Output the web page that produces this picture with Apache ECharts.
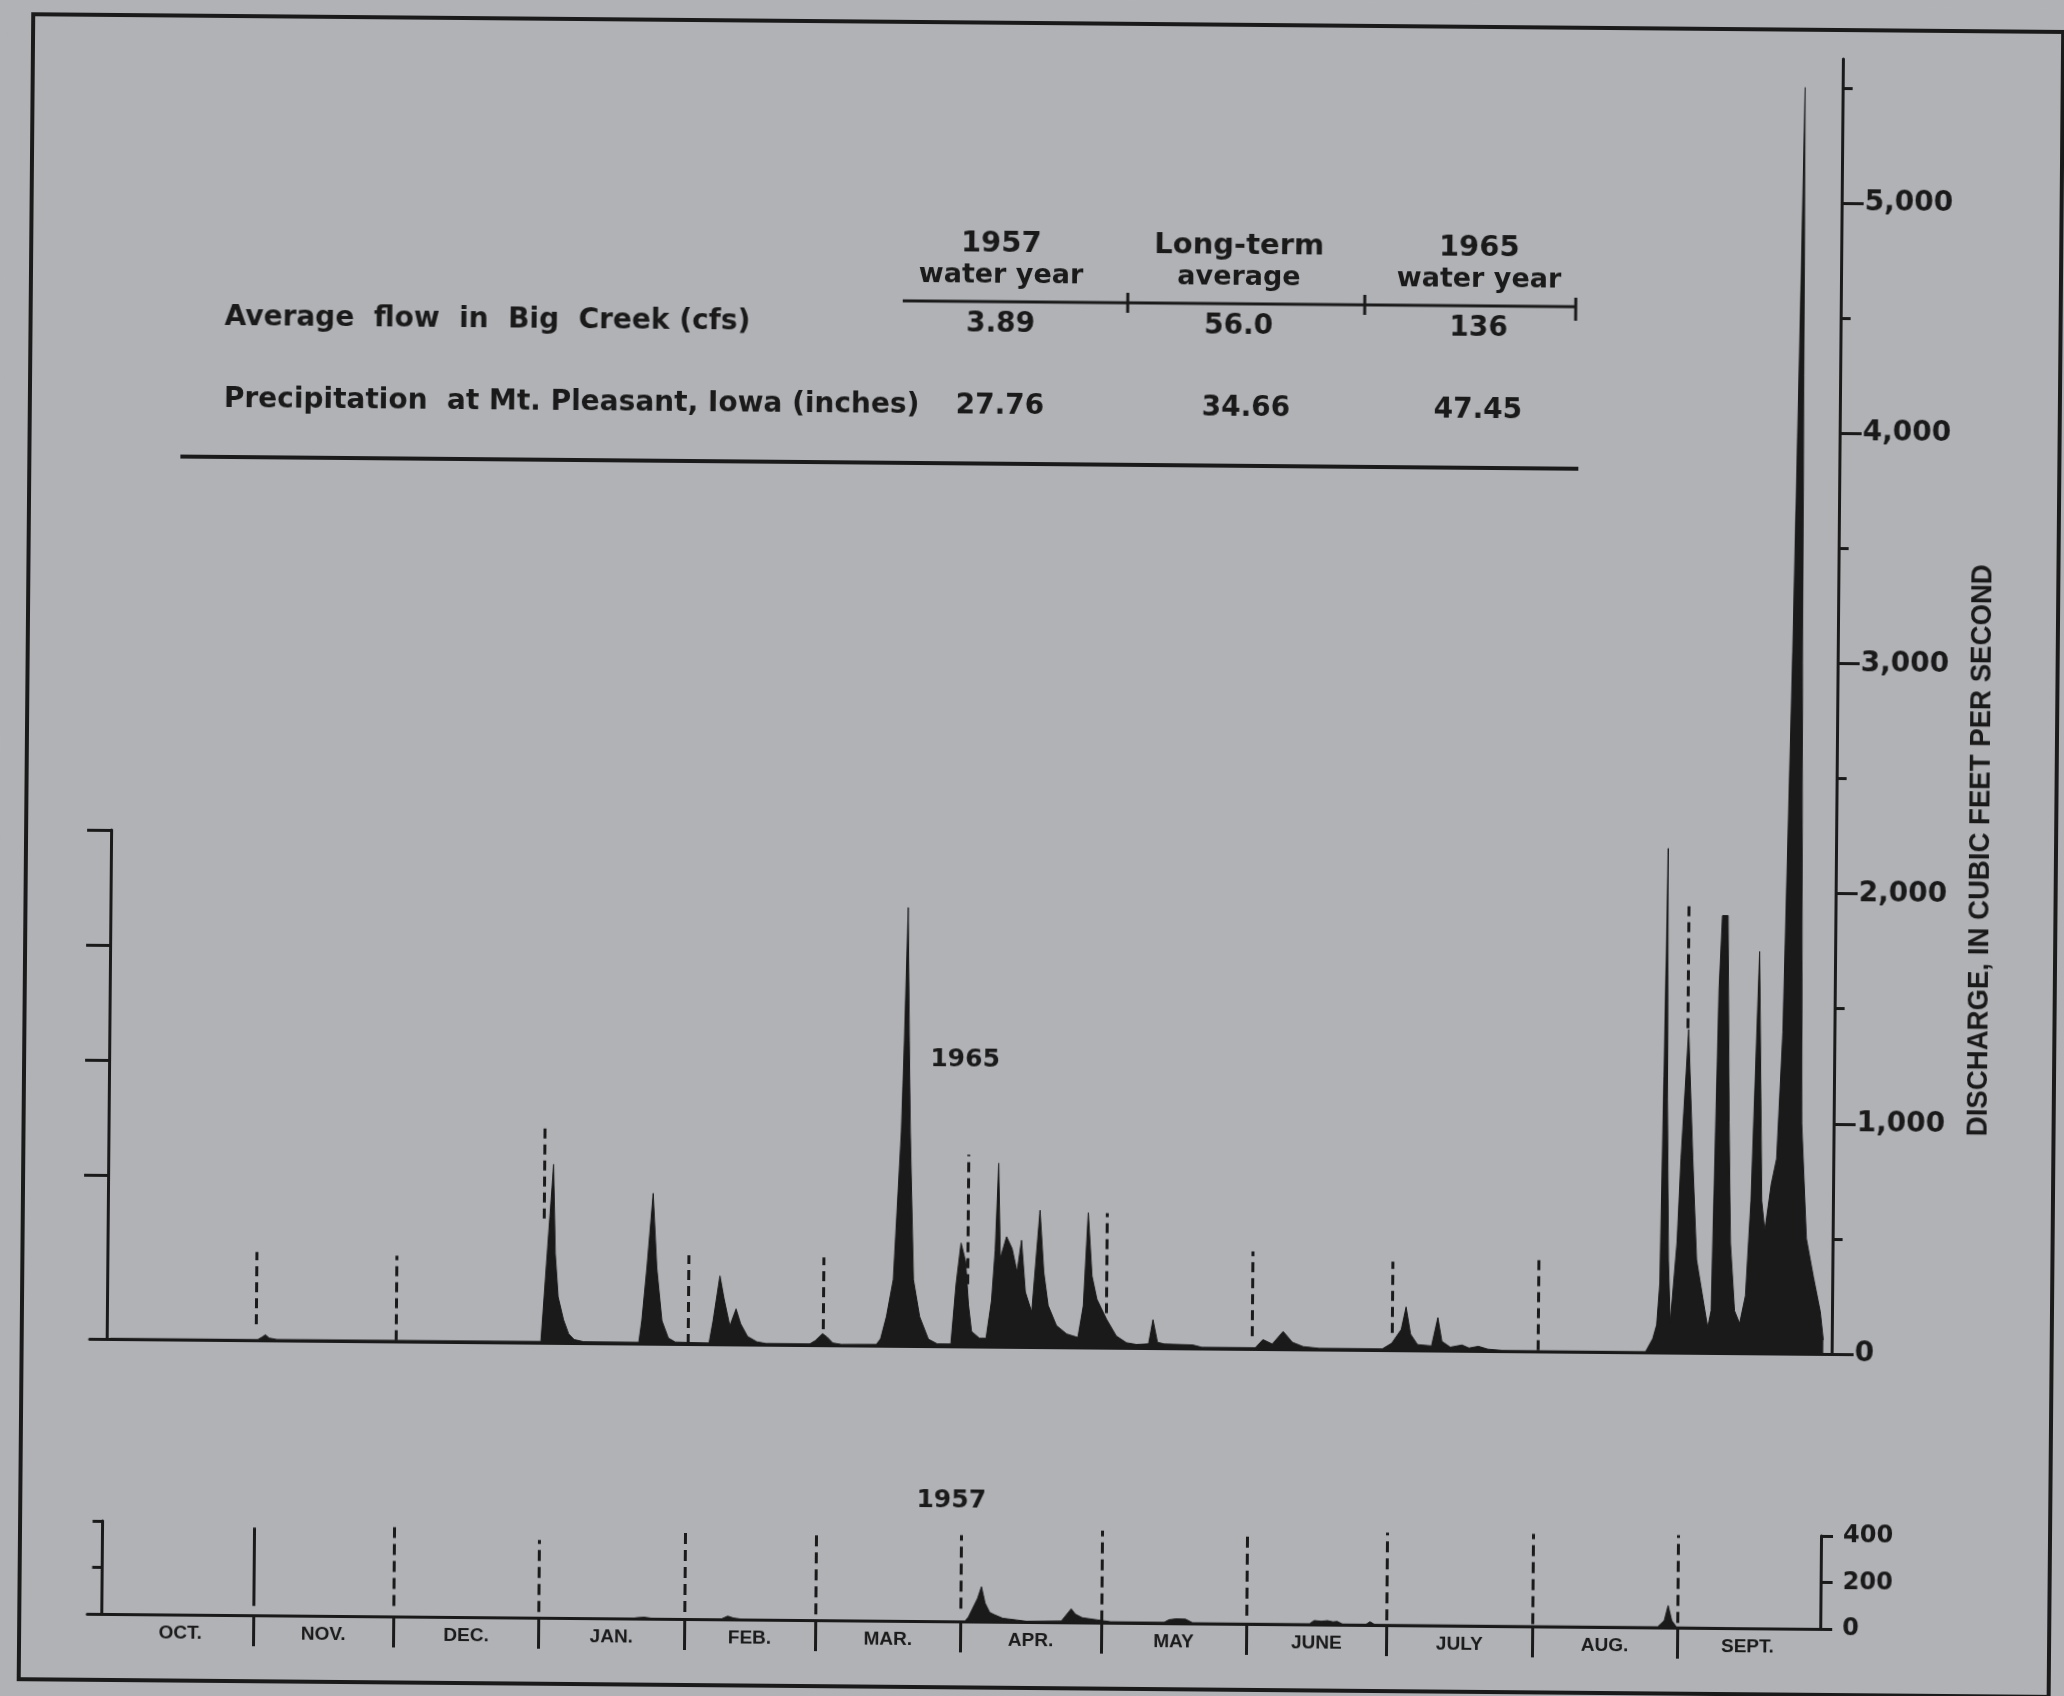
<!DOCTYPE html>
<html><head><meta charset="utf-8">
<script src="https://cdn.jsdelivr.net/npm/echarts@6/dist/echarts.min.js"></script>
<style>
html,body{margin:0;padding:0;background:#b1b2b6;overflow:hidden}
#c{width:2064px;height:1696px;transform:rotate(0.5deg);transform-origin:50% 50%}
</style>
</head><body><div id="c"></div>
<script>
// ---------- DATA ----------
const monthNames = ['OCT.','NOV.','DEC.','JAN.','FEB.','MAR.','APR.','MAY','JUNE','JULY','AUG.','SEPT.'];
const monthStartDays = [0,31,61,92,123,151,182,212,243,273,304,335,365]; // day 0 = Oct 1

// 1965 water year daily discharge (day, cfs)
const days1965 = [0,31.5,32.4,33.1,33.9,35.5,91.9,92.2,93.1,94.3,94.8,95.5,96.7,97.8,99,101,
 112.8,113.4,114.4,115.6,116.5,117.7,119.1,120.6,127.8,128.6,130.0,130.9,132.2,133.5,134.5,136,138,140,
 149.3,150.5,152,153,154.2,156,163.5,164.4,165.6,167.0,168.45,168.93,169.5,169.98,170.36,171.3,172.7,174.6,176.5,
 179.4,180.4,181.4,182.4,183.1,183.8,185.5,186.9,188.0,188.7,189.3,189.8,191.1,192.3,193.4,194.3,195.2,196.6,
 198.2,199.1,200.1,201.9,204.1,206.5,207.6,208.5,209.4,210.5,212.6,214.7,216.9,219,221.6,222.5,223.5,225,231,233,
 244.4,246,248,250.3,252.3,254.6,258,271.5,273.5,275.5,276.5,277.5,279,282,283.3,284.2,286,288.5,290,292,294,297,
 327.7,329.2,330.0,330.6,331.1,331.6,331.9,332.4,332.9,334.2,334.9,336.3,337.4,338.4,340.9,341.6,342.7,343.3,344.5,
 345.1,345.6,346.6,347.7,348.9,349.9,351.3,352.2,352.9,354.2,355.3,356.4,357.8,358.8,359.4,359.9,360.6,361.8,363.4,364.9,365.6];
const flow1965 = [3,3,14,24,10,4,5,100,390,775,390,200,100,40,15,6,
 5,100,330,653,330,100,25,8,5,100,297,200,80,154,90,35,12,5,
 5,20,50,35,10,4,5,30,127,288,930,1326,1904,1326,930,288,127,30,10,
 10,268,449,369,181,65,36,36,200,420,797,384,478,427,326,463,239,152,
 594,326,181,94,58,43,181,586,311,210,123,51,22,15,18,123,25,18,15,5,
 5,41,22,77,30,12,5,5,30,90,188,70,25,20,143,40,15,25,12,20,8,3,
 3,60,120,300,1200,2190,1100,400,130,478,846,1404,846,404,110,184,1581,1900,1900,
 1000,478,184,129,250,662,1746,662,533,735,846,1397,3051,4522,5500,3000,1000,500,331,184,60];

// 1957 water year daily discharge (day, cfs)
const days1957 = [0,112,113,114.5,116,131,132.3,133.5,135,183,183.7,185.6,186.4,187.2,188.2,189.2,191,194,196,
 203.5,205.6,206.5,208,211,214,225.5,226.5,228,230,231.5,256.5,257.5,259,260.3,261.5,262.4,263.5,268.6,269.4,270.3,
 330.8,332.2,333.0,333.8,334.8,365];
const flow1957 = [1,1,4,6,2,2,14,6,2,2,20,100,150,80,40,30,15,8,3,
 5,58,35,20,12,4,4,15,19,18,3,3,17,14,17,12,14,3,3,14,3,
 3,30,95,30,3,1];

// dashed month-boundary markers: position (day) and cfs extent, Nov..Sept
const dash1965Days = [31,61,92.4,123.3,152,182.8,212.6,243.6,273.6,304.6,336];
const dash1965Low  = [70,5,540,0,70,270,150,55,75,5,1410];
const dash1965High = [383,373,933,386,381,833,584,424,384,405,1954];
const dash1957Days = [31,61,92,123,151,182,212,243,273,304,335];
const dash1957Low  = [40,45,25,30,25,55,5,35,20,10,20];
const dash1957High = [377,384,334,384,384,371,396,394,398,398,398];

// axis ticks
const majorTicks = [0,1000,2000,3000,4000,5000];
const minorTicks = [500,1500,2500,3500,4500,5500];
const bracketTicks1965 = [710,1210,1710,2210];
const ticks1957 = [0,200,400];
const leftTicks1957 = [200,400];

// table
const columnHeads = [['1957','water year'],['Long-term','average'],['1965','water year']];
const rowLabels = ['Average  flow  in  Big  Creek (cfs)','Precipitation  at Mt. Pleasant, Iowa (inches)'];
const avgFlow = ['3.89','56.0','136'];
const precipitation = ['27.76','34.66','47.45'];
const axisName = 'DISCHARGE, IN CUBIC FEET PER SECOND';

// ---------- STYLE / LAYOUT ----------
const ink = '#1a1a1a';
const bg = '#b1b2b6';
const F = '"DejaVu Sans", sans-serif';
const FN = '"Liberation Sans", Arial, sans-serif';

const zip = (a,b) => a.map((v,i)=>[v,b[i]]);
const monthMid = monthNames.map((m,i)=>(monthStartDays[i]+monthStartDays[i+1])/2);
const boundaries = monthStartDays.slice(1,12);

function dashLines(days, lo, hi, solidFirst){
  return days.map((d,i)=>{
    const a = {coord:[d,lo[i]]};
    if (solidFirst && i===0) a.lineStyle = {type:'solid'};
    return [a,{coord:[d,hi[i]]}];
  });
}

const chart = echarts.init(document.getElementById('c'), null, {renderer:'canvas'});

const colX = [996, 1234, 1474];
const texts = [];
columnHeads.forEach((h,i)=>{
  texts.push({type:'text', x:colX[i], y:244, style:{text:h[0], font:'bold 29px '+F, fill:ink, textAlign:'center', textVerticalAlign:'middle'}});
  texts.push({type:'text', x:colX[i], y:276, style:{text:h[1], font:'bold 27px '+F, fill:ink, textAlign:'center', textVerticalAlign:'middle'}});
});
[avgFlow, precipitation].forEach((row,r)=>{
  const y = r===0 ? 325 : 407;
  texts.push({type:'text', x:220, y:y, style:{text:rowLabels[r], font:'bold 28px '+F, fill:ink, textAlign:'left', textVerticalAlign:'middle'}});
  row.forEach((v,i)=>{
    texts.push({type:'text', x:colX[i]+(r===1&&i===1?8:0), y:y, style:{text:v, font:'bold 28px '+F, fill:ink, textAlign:'center', textVerticalAlign:'middle'}});
  });
});

const graphics = [
  {type:'rect', shape:{x:26,y:23,width:2030,height:1665}, style:{fill:'none', stroke:ink, lineWidth:4}},
  {type:'line', shape:{x1:898,y1:302,x2:1572,y2:302}, style:{stroke:ink, lineWidth:3}},
  {type:'line', shape:{x1:1123,y1:292,x2:1123,y2:312}, style:{stroke:ink, lineWidth:3}},
  {type:'line', shape:{x1:1360,y1:292,x2:1360,y2:312}, style:{stroke:ink, lineWidth:3}},
  {type:'line', shape:{x1:1571,y1:293,x2:1571,y2:316}, style:{stroke:ink, lineWidth:3}},
  {type:'line', shape:{x1:177,y1:464,x2:1575,y2:464}, style:{stroke:ink, lineWidth:4}},
  {type:'text', x:967, y:1060, style:{text:'1965', font:'bold 25px '+F, fill:ink, textAlign:'center', textVerticalAlign:'middle'}},
  {type:'text', x:957, y:1501, style:{text:'1957', font:'bold 25px '+F, fill:ink, textAlign:'center', textVerticalAlign:'middle'}},
  {type:'text', x:1981, y:842, rotation:Math.PI/2, scaleX:0.92, style:{text:axisName, font:'bold 30px '+FN, fill:ink, textAlign:'center', textVerticalAlign:'middle'}}
].concat(texts);

const axisLine = {show:true, onZero:false, lineStyle:{color:ink, width:3}};
const noSplit = {show:false};

const option = {
  animation:false,
  backgroundColor:bg,
  grid:[
    {left:94, right:228, top:52, bottom:349, outerBoundsMode:'none'},
    {left:111, right:228, top:838, bottom:349, outerBoundsMode:'none'},
    {left:94, right:237, top:1529, bottom:74, outerBoundsMode:'none'}
  ],
  xAxis:[
    {type:'value', gridIndex:0, min:-4.4, max:367.4, axisLine:axisLine, axisTick:{show:false}, axisLabel:{show:false}, splitLine:noSplit},
    {type:'value', gridIndex:1, min:0, max:1, show:false},
    {type:'value', gridIndex:2, min:-4.4, max:365.5, axisLine:axisLine,
      axisTick:{show:true, customValues:boundaries, length:31, lineStyle:{color:ink, width:3}},
      axisLabel:{show:true, customValues:monthMid, margin:9, color:ink, fontFamily:FN, fontWeight:'bold', fontSize:19,
        formatter:(v)=>{const i=monthMid.findIndex(m=>Math.abs(m-v)<0.01); return i>=0?monthNames[i]:'';}},
      splitLine:noSplit}
  ],
  yAxis:[
    {type:'value', gridIndex:0, position:'right', min:0, max:5625, axisLine:axisLine,
      axisTick:{show:true, customValues:majorTicks, length:22, lineStyle:{color:ink, width:3}},
      axisLabel:{show:true, customValues:majorTicks, margin:23, color:ink, fontFamily:F, fontWeight:'bold', fontSize:28,
        formatter:(v)=>Number(v).toLocaleString('en-US')},
      splitLine:noSplit},
    {type:'value', gridIndex:0, position:'right', min:0, max:5625, axisLine:{show:false, onZero:false},
      axisTick:{show:true, customValues:minorTicks, length:10, lineStyle:{color:ink, width:3}},
      axisLabel:{show:false}, splitLine:noSplit},
    {type:'value', gridIndex:1, position:'left', min:0, max:2210, axisLine:axisLine,
      axisTick:{show:true, customValues:bracketTicks1965, length:24, lineStyle:{color:ink, width:3}},
      axisLabel:{show:false}, splitLine:noSplit},
    {type:'value', gridIndex:2, position:'right', min:0, max:400, axisLine:axisLine,
      axisTick:{show:true, customValues:ticks1957, length:12, lineStyle:{color:ink, width:3}},
      axisLabel:{show:true, customValues:ticks1957, margin:22, color:ink, fontFamily:F, fontWeight:'bold', fontSize:24},
      splitLine:noSplit},
    {type:'value', gridIndex:2, position:'left', offset:-14.5, min:0, max:400, axisLine:axisLine,
      axisTick:{show:true, customValues:leftTicks1957, length:10, lineStyle:{color:ink, width:3}},
      axisLabel:{show:false}, splitLine:noSplit}
  ],
  series:[
    {type:'line', name:'1965', xAxisIndex:0, yAxisIndex:0, data:zip(days1965, flow1965), symbol:'none',
      lineStyle:{color:ink, width:1}, areaStyle:{color:ink, opacity:1}, z:3,
      markLine:{silent:true, symbol:['none','none'], label:{show:false},
        lineStyle:{color:ink, width:3, type:[10,6]}, data:dashLines(dash1965Days, dash1965Low, dash1965High, false)}},
    {type:'line', name:'1957', xAxisIndex:2, yAxisIndex:3, data:zip(days1957, flow1957), symbol:'none',
      lineStyle:{color:ink, width:1}, areaStyle:{color:ink, opacity:1}, z:3,
      markLine:{silent:true, symbol:['none','none'], label:{show:false},
        lineStyle:{color:ink, width:3, type:[11,6]}, data:dashLines(dash1957Days, dash1957Low, dash1957High, true)}}
  ],
  graphic:{elements:graphics}
};
chart.setOption(option);
</script>
</body></html>
